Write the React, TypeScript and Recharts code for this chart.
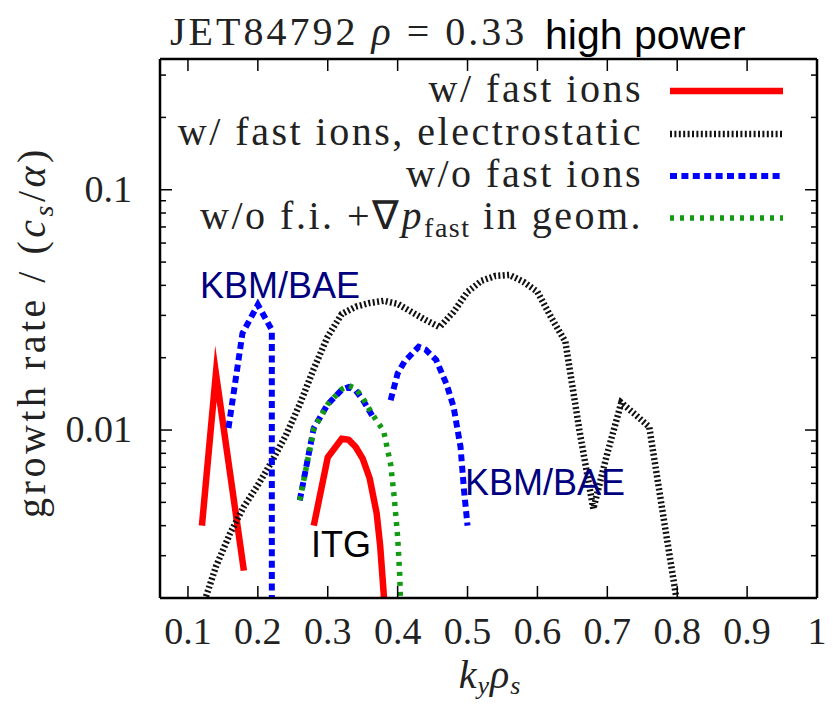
import React from "react";
import { LineChart, Line, XAxis, YAxis } from "recharts";

// plot frame (gnuplot style box)
const W = 833;
const H = 704;
const LEFT = 160;
const RIGHT = 817;
const TOP = 59;
const BOTTOM = 598;
const AX = 10; // axis band size, subtracted from the margins

const SERIF = "'Liberation Serif', 'Times New Roman', serif";
const SANS = "'Liberation Sans', Arial, sans-serif";

const X_TICKS = [0.1, 0.2, 0.3, 0.4, 0.5, 0.6, 0.7, 0.8, 0.9, 1];
const Y_MAJOR = [0.01, 0.1];
const Y_MINOR = [
  0.002, 0.003, 0.004, 0.005, 0.006, 0.007, 0.008, 0.009, 0.02, 0.03, 0.04,
  0.05, 0.06, 0.07, 0.08, 0.09, 0.2, 0.3,
];
const Y_TICKS = [...Y_MINOR, ...Y_MAJOR].sort((a, b) => a - b);

// w/ fast ions (two branches, null = gap)
const FI_KY = [0.12, 0.14, 0.18, 0.2, 0.28, 0.3, 0.32, 0.33, 0.34, 0.35, 0.36, 0.37, 0.375, 0.38, 0.385];
const FI_GAMMA = [0.0040, 0.0172, 0.0026, null, 0.0040, 0.0077, 0.0092, 0.0091, 0.0085, 0.0076, 0.0063, 0.0045, 0.0033, 0.0021, 0.0012];

// w/ fast ions, electrostatic
const ES_KY = [
  0.12, 0.14, 0.16, 0.18, 0.2, 0.22, 0.24, 0.26, 0.28, 0.3, 0.32, 0.34, 0.36,
  0.38, 0.4, 0.42, 0.44, 0.46, 0.48, 0.5, 0.52, 0.54, 0.56, 0.58, 0.6, 0.62,
  0.64, 0.66, 0.68, 0.7, 0.72, 0.74, 0.76, 0.78, 0.8,
];
const ES_GAMMA = [
  0.0018, 0.0027, 0.0037, 0.0048, 0.0059, 0.0074, 0.0095, 0.0128, 0.018,
  0.0245, 0.0304, 0.0326, 0.0338, 0.0345, 0.0335, 0.031, 0.0287, 0.0268,
  0.031, 0.0376, 0.0418, 0.0438, 0.0442, 0.0414, 0.0376, 0.0293, 0.0233,
  0.01, 0.0047, 0.008, 0.013, 0.0116, 0.0103, 0.0044, 0.0019,
];

// w/o fast ions (three branches)
const NOFI_KY = [
  0.158, 0.178, 0.2, 0.22, 0.22, 0.24,
  0.26, 0.28, 0.3, 0.32, 0.33, 0.34, 0.35, 0.365, 0.38,
  0.39, 0.4, 0.41, 0.43, 0.44, 0.455, 0.47, 0.48, 0.49, 0.495, 0.5,
];
const NOFI_GAMMA = [
  0.0102, 0.0253, 0.0332, 0.0261, 0.0004, null,
  0.0051, 0.0102, 0.0128, 0.0147, 0.0151, 0.0146, 0.0134, 0.0113, null,
  0.0133, 0.0172, 0.0193, 0.0222, 0.0216, 0.0196, 0.0155, 0.0125, 0.0085, 0.0056, 0.004,
];

// w/o f.i. + grad p_fast in geometry
const GEOM_KY = [0.26, 0.28, 0.3, 0.32, 0.33, 0.34, 0.35, 0.365, 0.38, 0.39, 0.395, 0.4, 0.403, 0.405];
const GEOM_GAMMA = [0.0051, 0.0101, 0.0128, 0.0148, 0.0153, 0.0149, 0.0136, 0.0115, 0.0099, 0.0072, 0.0053, 0.0036, 0.0025, 0.0015];

const rows = (ky: number[], g: (number | null)[]) =>
  ky.map((k, i) => ({ ky: k, gamma: g[i] }));

const RED = "#ff0000";
const BLUE = "#0000ff";
const GREEN = "#129a12";
const NAVY = "#00007f";

const SERIES = [
  { key: "fi", data: rows(FI_KY, FI_GAMMA), color: RED, width: 6.5, dash: undefined },
  { key: "es", data: rows(ES_KY, ES_GAMMA), color: "#111", width: 6.5, dash: "2 2.4" },
  { key: "nofi", data: rows(NOFI_KY, NOFI_GAMMA), color: BLUE, width: 6, dash: "7 4.4" },
  { key: "geom", data: rows(GEOM_KY, GEOM_GAMMA), color: GREEN, width: 5.5, dash: "4 6" },
];

const BottomTick = (props: any) => {
  const { x, payload } = props;
  return (
    <g>
      <line x1={x} x2={x} y1={BOTTOM} y2={BOTTOM - 12} stroke="#000" strokeWidth={1.5} />
      <text x={x} y={BOTTOM + 46} textAnchor="middle" fontFamily={SERIF} fontSize={38} fill="#222">
        {String(payload.value)}
      </text>
    </g>
  );
};

const TopTick = (props: any) => {
  const { x } = props;
  return <line x1={x} x2={x} y1={TOP} y2={TOP + 12} stroke="#000" strokeWidth={1.5} />;
};

const LeftTick = (props: any) => {
  const { y, payload } = props;
  const major = Y_MAJOR.includes(payload.value);
  return (
    <g>
      <line x1={LEFT} x2={LEFT + (major ? 12 : 6)} y1={y} y2={y} stroke="#000" strokeWidth={1.5} />
      {major && (
        <text x={LEFT - 28} y={y + 12} textAnchor="end" fontFamily={SERIF} fontSize={38} fill="#222">
          {String(payload.value)}
        </text>
      )}
    </g>
  );
};

const RightTick = (props: any) => {
  const { y, payload } = props;
  const major = Y_MAJOR.includes(payload.value);
  return <line x1={RIGHT} x2={RIGHT - (major ? 12 : 6)} y1={y} y2={y} stroke="#000" strokeWidth={1.5} />;
};

const LEGEND = [
  { label: "w/ fast ions", color: RED, width: 6.5, dash: undefined, y: 91 },
  { label: "w/ fast ions, electrostatic", color: "#111", width: 6.5, dash: "2 2.4", y: 134 },
  { label: "w/o fast ions", color: BLUE, width: 6, dash: "7 4.4", y: 176 },
  { label: "geom", color: GREEN, width: 5.5, dash: "4 6", y: 218 },
];

function Overlay() {
  const txt = { fontFamily: SERIF, fontSize: 40, fill: "#222", letterSpacing: 2.5 } as const;
  return (
    <svg width={W} height={H} style={{ position: "absolute", left: 0, top: 0, pointerEvents: "none" }}>
      {/* title */}
      <text x={170} y={45} {...txt} letterSpacing={3}>
        JET84792 <tspan fontStyle="italic">ρ</tspan> = 0.33
      </text>
      <text x={545} y={49} fontFamily={SANS} fontSize={41} fill="#000">
        high power
      </text>

      {/* legend */}
      {LEGEND.map((l) => (
        <g key={l.y}>
          <line x1={670} x2={783} y1={l.y} y2={l.y} stroke={l.color} strokeWidth={l.width} strokeDasharray={l.dash} />
          {l.label === "geom" ? (
            <text x={643} y={l.y + 11} textAnchor="end" {...txt}>
              w/o f.i.  +∇<tspan fontStyle="italic">p</tspan>
              <tspan fontSize={28} dy={8} letterSpacing={1.5}>fast</tspan>
              <tspan dy={-8}> in geom.</tspan>
            </text>
          ) : (
            <text x={643} y={l.y + 11} textAnchor="end" {...txt}>
              {l.label}
            </text>
          )}
        </g>
      ))}

      {/* annotations */}
      <text x={200} y={298} fontFamily={SANS} fontSize={36} fill={NAVY}>KBM/BAE</text>
      <text x={465} y={495} fontFamily={SANS} fontSize={36} fill={NAVY}>KBM/BAE</text>
      <text x={311} y={557} fontFamily={SANS} fontSize={36} fill="#000">ITG</text>

      {/* axis titles */}
      <text x={490} y={688} textAnchor="middle" fontFamily={SERIF} fontSize={40} fill="#222" fontStyle="italic" letterSpacing={1}>
        k<tspan fontSize={26} dy={6}>y</tspan>
        <tspan dy={-6}>ρ</tspan>
        <tspan fontSize={26} dy={6}>s</tspan>
      </text>
      <text
        x={0}
        y={0}
        transform="translate(45,332) rotate(-90)"
        textAnchor="middle"
        fontFamily={SERIF}
        fontSize={40}
        fill="#222"
        letterSpacing={3.5}
      >
        growth rate / (<tspan fontStyle="italic">c</tspan>
        <tspan fontSize={28} dy={8} fontStyle="italic">s</tspan>
        <tspan dy={-8}>/</tspan>
        <tspan fontStyle="italic">α</tspan>)
      </text>
    </svg>
  );
}

export default function App() {
  return (
    <div style={{ position: "fixed", left: 0, top: 0, width: W, height: H, background: "#fff" }}>
      <LineChart
        width={W}
        height={H}
        margin={{ top: TOP - AX, right: W - RIGHT - AX, bottom: H - BOTTOM - AX, left: LEFT - AX }}
      >
        <XAxis
          xAxisId="b"
          dataKey="ky"
          type="number"
          domain={[0.06, 1]}
          allowDataOverflow
          ticks={X_TICKS}
          interval={0}
          height={AX}
          tickSize={0}
          tickMargin={0}
          tick={BottomTick}
          axisLine={{ stroke: "#000", strokeWidth: 2.5 }}
        />
        <XAxis
          xAxisId="t"
          orientation="top"
          dataKey="ky"
          type="number"
          domain={[0.06, 1]}
          allowDataOverflow
          ticks={X_TICKS}
          interval={0}
          height={AX}
          tickSize={0}
          tickMargin={0}
          tick={TopTick}
          axisLine={{ stroke: "#000", strokeWidth: 2.5 }}
        />
        <YAxis
          yAxisId="l"
          type="number"
          scale="log"
          domain={[0.002, 0.35]}
          allowDataOverflow
          ticks={Y_TICKS}
          interval={0}
          width={AX}
          tickSize={0}
          tickMargin={0}
          tick={LeftTick}
          axisLine={{ stroke: "#000", strokeWidth: 2.5 }}
        />
        <YAxis
          yAxisId="r"
          orientation="right"
          type="number"
          scale="log"
          domain={[0.002, 0.35]}
          allowDataOverflow
          ticks={Y_TICKS}
          interval={0}
          width={AX}
          tickSize={0}
          tickMargin={0}
          tick={RightTick}
          axisLine={{ stroke: "#000", strokeWidth: 2.5 }}
        />
        {SERIES.map((s) => (
          <Line
            key={s.key}
            xAxisId="b"
            yAxisId="l"
            data={s.data}
            dataKey="gamma"
            type="linear"
            stroke={s.color}
            strokeWidth={s.width}
            strokeDasharray={s.dash}
            strokeMiterlimit={20}
            dot={false}
            activeDot={false}
            isAnimationActive={false}
          />
        ))}
      </LineChart>
      <Overlay />
    </div>
  );
}
